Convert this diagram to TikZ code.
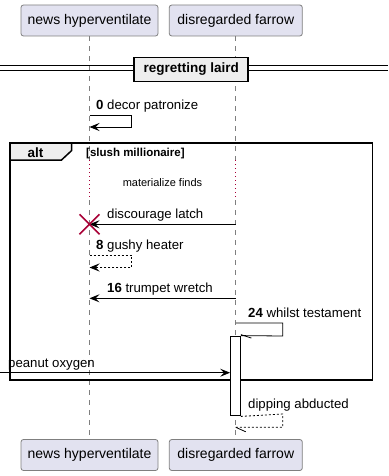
\documentclass[tikz,border=0pt]{standalone}
\usepackage{fontspec}
\setmainfont{Liberation Sans}
\usetikzlibrary{arrows.meta}

\definecolor{partfill}{HTML}{E2E2F0}
\definecolor{partdraw}{HTML}{7F7F7F}
\definecolor{lifegray}{HTML}{7F7F7F}
\definecolor{crimson}{HTML}{A80036}
\definecolor{tabfill}{HTML}{EEEEEE}

\tikzset{
  participant/.style={draw=partdraw, fill=partfill, rounded corners=2.5pt,
    minimum height=31pt, inner sep=0pt, line width=0.8pt,
    font=\fontsize{14}{16}\selectfont},
  lifeline/.style={draw=lifegray, dash pattern=on 5pt off 5pt, line width=0.8pt},
  pause/.style={draw=crimson, dash pattern=on 1pt off 3pt, line width=1pt},
  tip/.style={-{Stealth[length=10pt,width=8pt,inset=4pt]}},
  msg/.style={draw=black, line width=0.8pt, tip},
  ret/.style={msg, dash pattern=on 2pt off 2pt},
  halftip/.style={draw=black, line width=0.8pt},
  lbl/.style={font=\fontsize{13.2}{15}\selectfont, anchor=base west, inner sep=0pt},
  small/.style={font=\fontsize{11}{13}\selectfont, inner sep=0pt},
  activation/.style={draw=black, fill=white, line width=0.8pt,
    minimum width=10pt, inner sep=0pt},
  dividerbox/.style={draw=black, fill=tabfill, line width=1.5pt,
    minimum width=114pt, minimum height=24pt, inner sep=0pt,
    font=\bfseries\fontsize{13.5}{15}\selectfont},
}

\begin{document}
\begin{tikzpicture}[x=1pt, y=-1pt]
  \useasboundingbox (0,0) rectangle (388,476);

  % participants, top and bottom
  \node[participant, minimum width=137pt] (nh)  at (89.5,20.5)  {news hyperventilate};
  \node[participant, minimum width=133pt] (df)  at (235.8,20.5) {disregarded farrow};
  \node[participant, minimum width=137pt] (nhb) at (89.5,455)   {news hyperventilate};
  \node[participant, minimum width=133pt] (dfb) at (235.8,455)  {disregarded farrow};

  % lifelines, broken by the pause
  \coordinate (nhp1) at (89.5,160);  \coordinate (nhp2) at (89.5,200);
  \coordinate (dfp1) at (235.8,160); \coordinate (dfp2) at (235.8,200);
  \draw[lifeline] (nh.south) -- (nhp1);
  \draw[pause] (nhp1) -- (nhp2);
  \draw[lifeline] (nhp2) -- (nhb.north);
  \draw[lifeline] (df.south) -- (dfp1);
  \draw[pause] (dfp1) -- (dfp2);
  \draw[lifeline] (dfp2) -- (dfb.north);

  % divider
  \draw[line width=0.8pt] (0,65.5) -- (388,65.5) (0,70) -- (388,70);
  \node[dividerbox] (div) at (191.2,69.5) {regretting laird};

  % 0 decor patronize
  \coordinate (m0a) at (89.5,115);
  \coordinate (m0b) at (89.5,127);
  \node[lbl] (t0) at (96,109.5) {\textbf{0} decor patronize};
  \draw[msg] (m0a) -- (131.7,115) -- (131.7,127) -- (m0b);

  % alt frame
  \draw[line width=1.5pt] (10,143) rectangle (372.5,380);
  \draw[line width=1.5pt, fill=tabfill] (10,143) -- (71.7,143) -- (71.7,150.5)
     -- (61.5,160) -- (10,160) -- cycle;
  \node[font=\bfseries\fontsize{13.5}{15}\selectfont, inner sep=0pt, anchor=base]
     (alt) at (35.5,157) {alt};
  \node[font=\bfseries\fontsize{11.5}{13}\selectfont, inner sep=0pt, anchor=base west]
     (guard) at (86,156) {[slush millionaire]};

  % pause label
  \node[small, anchor=base] (pz) at (162.5,186.5) {materialize finds};

  % discourage latch, with destruction
  \coordinate (m1a) at (235.8,224.3);
  \coordinate (m1b) at (89.5,224.3);
  \node[lbl] (t1) at (107,218.8) {discourage latch};
  \draw[msg] (m1a) -- (m1b);
  \draw[crimson, line width=1.6pt] (79.5,214.3) -- (99.5,234.3)
                                    (79.5,234.3) -- (99.5,214.3);

  % 8 gushy heater
  \coordinate (m2a) at (89.5,255);
  \coordinate (m2b) at (89.5,267.5);
  \node[lbl] (t2) at (96,249.5) {\textbf{8} gushy heater};
  \draw[ret] (m2a) -- (131.7,255) -- (131.7,267.5) -- (m2b);

  % 16 trumpet wretch
  \coordinate (m3a) at (235.8,298.3);
  \coordinate (m3b) at (89.5,298.3);
  \node[lbl] (t3) at (107,292.7) {\textbf{16} trumpet wretch};
  \draw[msg] (m3a) -- (m3b);

  % activation on disregarded farrow
  \node[activation, minimum height=79pt] (act) at (235.5,375.5) {};

  % 24 whilst testament
  \coordinate (m4a) at (235.8,323);
  \node[lbl] (t4) at (248,317.5) {\textbf{24} whilst testament};
  \draw[line width=0.8pt] (m4a) -- (282.7,323) -- (282.7,336) -- (act.north east);
  \draw[halftip] ([yshift=1pt]act.north east) -- ++(10.5,3.5);

  % peanut oxygen, from outside
  \coordinate (m5a) at (0,372.7);
  \node[lbl] (t5) at (8,367) {peanut oxygen};
  \draw[msg] (m5a) -- (act.west |- m5a);

  % dipping abducted
  \coordinate (m6b) at (235.8,427.3);
  \node[lbl] (t6) at (248,408.5) {dipping abducted};
  \draw[line width=0.8pt, dash pattern=on 2pt off 2pt]
     ([yshift=-1pt]act.south east) -- (282.7,414) -- (282.7,427.3) -- (m6b);
  \draw[halftip] (m6b) -- ++(10,4.5);
\end{tikzpicture}
\end{document}
